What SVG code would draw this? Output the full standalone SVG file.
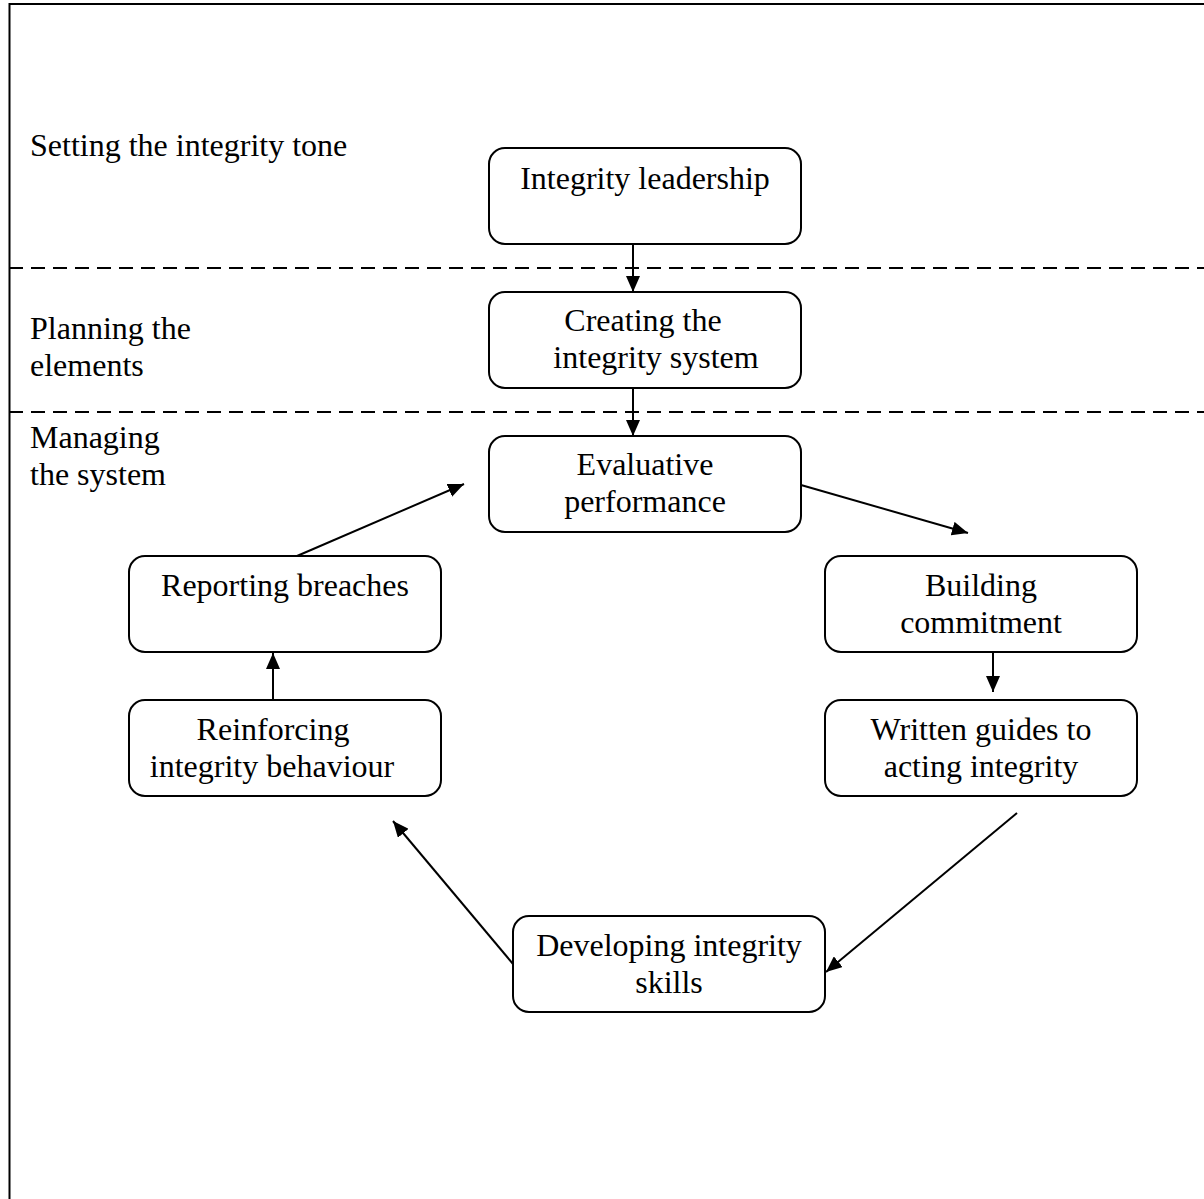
<svg xmlns="http://www.w3.org/2000/svg" width="1204" height="1199" viewBox="0 0 1204 1199">
<style>
text{font-family:"Liberation Serif","Times New Roman",serif;font-size:32px;fill:#000}
.c{text-anchor:middle}
.box{fill:#fff;stroke:#000;stroke-width:2}
.dash{stroke:#000;stroke-width:2;stroke-dasharray:14 8;fill:none}
.arr{stroke:#000;stroke-width:2;fill:none;marker-end:url(#ah)}
</style>
<defs>
<marker id="ah" viewBox="0 0 16 14" refX="16" refY="7" markerWidth="16" markerHeight="14" markerUnits="userSpaceOnUse" orient="auto">
<path d="M0,0 L16,7 L0,14 z" fill="#000"/>
</marker>
</defs>
<rect width="1204" height="1199" fill="#fff"/>
<g id="frame">
<path d="M1204,4 H9.5 V1199" fill="none" stroke="#000" stroke-width="2"/>
<line class="dash" x1="9" y1="268" x2="1204" y2="268"/>
<line class="dash" x1="9" y1="412" x2="1204" y2="412"/>
</g>
<g id="labels">
<text x="30" y="156">Setting the integrity tone</text>
<text x="30" y="339">Planning the</text>
<text x="30" y="376">elements</text>
<text x="30" y="448">Managing</text>
<text x="30" y="485">the system</text>
</g>
<g id="connectors">
<line class="arr" x1="633" y1="244" x2="633" y2="292"/>
<line class="arr" x1="633" y1="388" x2="633" y2="436"/>
<line class="arr" x1="801" y1="485" x2="968" y2="533"/>
<line class="arr" x1="993" y1="652" x2="993" y2="692"/>
<line class="arr" x1="1017" y1="813" x2="826" y2="972"/>
<line class="arr" x1="513" y1="964" x2="393" y2="821"/>
<line class="arr" x1="273" y1="700" x2="273" y2="653"/>
<line class="arr" x1="297" y1="556" x2="464" y2="484"/>
</g>
<g id="n-leadership">
<rect class="box" x="489" y="148" width="312" height="96" rx="16"/>
<text class="c" x="645" y="189">Integrity leadership</text>
</g>
<g id="n-creating">
<rect class="box" x="489" y="292" width="312" height="96" rx="16"/>
<text class="c" x="643" y="331">Creating the</text>
<text class="c" x="656" y="368">integrity system</text>
</g>
<g id="n-evaluative">
<rect class="box" x="489" y="436" width="312" height="96" rx="16"/>
<text class="c" x="645" y="475">Evaluative</text>
<text class="c" x="645" y="512">performance</text>
</g>
<g id="n-reporting">
<rect class="box" x="129" y="556" width="312" height="96" rx="16"/>
<text class="c" x="285" y="596">Reporting breaches</text>
</g>
<g id="n-building">
<rect class="box" x="825" y="556" width="312" height="96" rx="16"/>
<text class="c" x="981" y="596">Building</text>
<text class="c" x="981" y="633">commitment</text>
</g>
<g id="n-reinforcing">
<rect class="box" x="129" y="700" width="312" height="96" rx="16"/>
<text class="c" x="273" y="740">Reinforcing</text>
<text class="c" x="272" y="777">integrity behaviour</text>
</g>
<g id="n-written">
<rect class="box" x="825" y="700" width="312" height="96" rx="16"/>
<text class="c" x="981" y="740">Written guides to</text>
<text class="c" x="981" y="777">acting integrity</text>
</g>
<g id="n-developing">
<rect class="box" x="513" y="916" width="312" height="96" rx="16"/>
<text class="c" x="669" y="956">Developing integrity</text>
<text class="c" x="669" y="993">skills</text>
</g>
</svg>
